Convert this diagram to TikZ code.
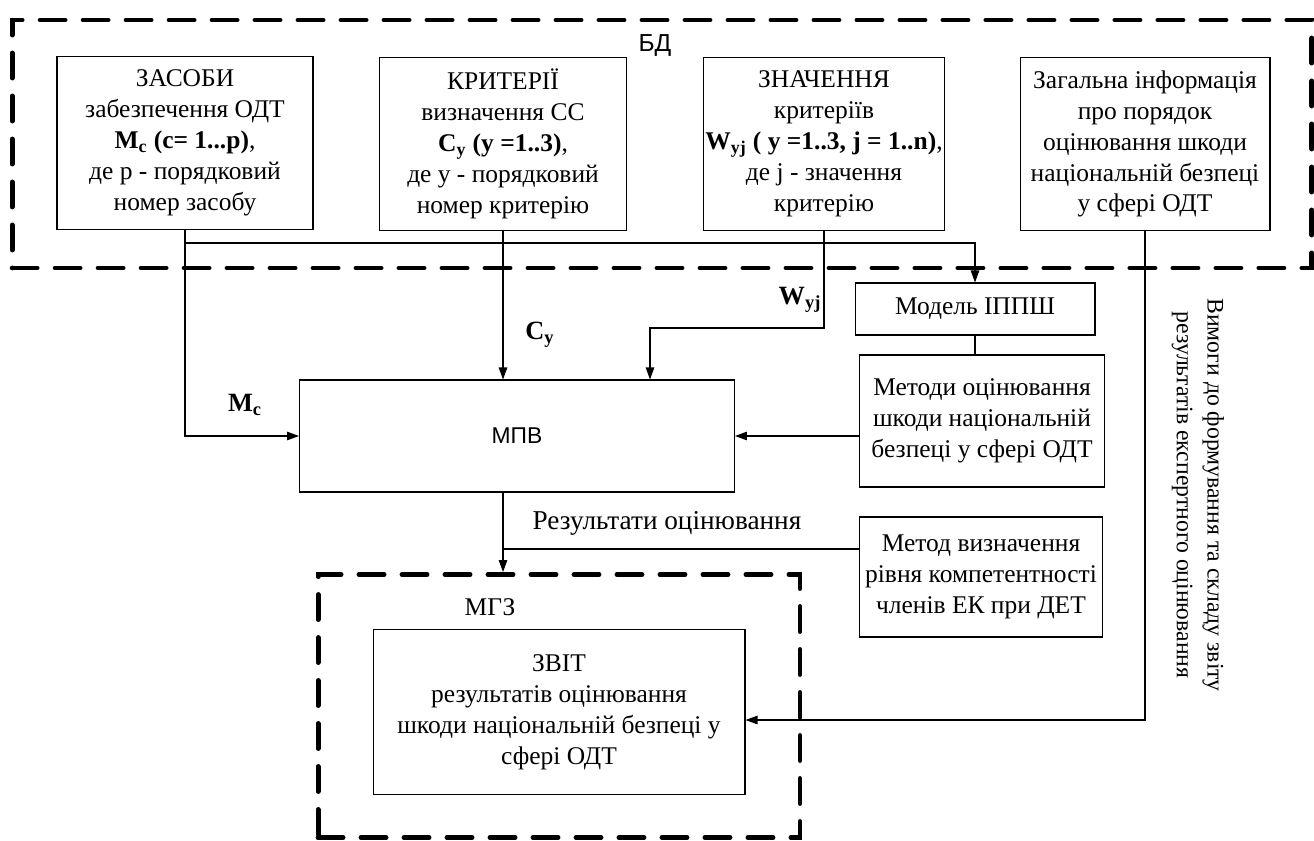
\documentclass[tikz,border=0pt]{standalone}
\usepackage{fontspec}
\setmainfont{Liberation Serif}
\newfontfamily\sansf{Liberation Sans}
\usetikzlibrary{arrows.meta}

\begin{document}
\begin{tikzpicture}[x=0.02cm,y=-0.02cm,
    box/.style={draw,line width=0.6pt,align=center,inner sep=1pt,font=\fontsize{14.5}{17.6}\selectfont},
    zone/.style={draw,line width=2.8pt,dash pattern=on 0.5cm off 0.36cm,line cap=round},
    link/.style={line width=0.6pt},
    arr/.style={link,-{Triangle[length=0.24cm,width=0.17cm]}},
    lbl/.style={font=\fontsize{15}{17}\selectfont\bfseries}]
    \useasboundingbox (0,0) rectangle (1314,841);
    \node[zone,minimum width=26cm,minimum height=4.96cm] (bd) at (662,144) {};
    \node[font=\sansf\fontsize{14}{16}\selectfont] (bdlbl) at (655,45) {БД};
    \node[box,minimum width=5.12cm,minimum height=3.46cm] (tools) at (185,143) {ЗАСОБИ\\забезпечення ОДТ\\\textbf{M\textsubscript{c} (c= 1...p)},\\де р - порядковий\\номер засобу};
    \node[box,minimum width=4.94cm,minimum height=3.46cm] (crit) at (503,144) {КРИТЕРІЇ\\визначення СС\\\textbf{C\textsubscript{y} (y =1..3)},\\де у - порядковий\\номер критерію};
    \node[box,minimum width=4.56cm,minimum height=3.46cm] (vals) at (824,144) {ЗНАЧЕННЯ\\критеріїв\\\textbf{W\textsubscript{yj} ( y =1..3, j = 1..n)},\\де j - значення\\критерію};
    \node[box,minimum width=5cm,minimum height=3.46cm] (info) at (1145,144) {Загальна інформація\\про порядок\\оцінювання шкоди\\національній безпеці\\у сфері ОДТ};
    \node[box,minimum width=4.8cm,minimum height=1.04cm] (model) at (975,309) {Модель ІППШ};
    \node[box,minimum width=4.9cm,minimum height=2.64cm] (methods) at (982,421) {Методи оцінювання\\шкоди національній\\безпеці у сфері ОДТ};
    \node[box,minimum width=4.86cm,minimum height=2.4cm] (method2) at (981,577) {Метод визначення\\рівня компетентності\\членів ЕК при ДЕТ};
    \node[box,font=\sansf\fontsize{13}{15}\selectfont,minimum width=8.7cm,minimum height=2.24cm] (mpv) at (517,436) {МПВ};
    \node[zone,minimum width=9.64cm,minimum height=5.26cm] (mgz) at (559,706) {};
    \node[font=\fontsize{14.5}{17}\selectfont] (mgzlbl) at (490,607) {МГЗ};
    \node[box,minimum width=7.44cm,minimum height=3.3cm] (report) at (559,712) {ЗВІТ\\результатів оцінювання\\шкоди національній безпеці у\\сфері ОДТ};
    \node[rotate=-90,align=center,font=\fontsize{13.5}{17.5}\selectfont] (req) at (1198,495) {Вимоги до формування та складу звіту\\результатів експертного оцінювання};
    \node[lbl] (mclbl) at (245,405) {M\textsubscript{c}};
    \node[lbl] (cylbl) at (540,335) {C\textsubscript{y}};
    \node[lbl] (wlbl) at (800,300) {W\textsubscript{yj}};
    \node[font=\fontsize{15.5}{17}\selectfont] (reslbl) at (667,523) {Результати оцінювання};
    \coordinate (bus) at (0,243);
    \coordinate (wbend) at (650,328);
    \coordinate (res) at (0,549);
    \coordinate (toreport) at (0,720);
    \draw[arr] (tools.south) |- (mpv.west);
    \draw[arr] (tools.south |- bus) -| (model.north);
    \draw[arr] (crit.south) -- (crit.south |- mpv.north);
    \draw[arr] (vals.south) |- (wbend) -- (wbend |- mpv.north);
    \draw[link] (model.south) -- (model.south |- methods.north);
    \draw[arr] (methods.west |- mpv) -- (mpv.east);
    \draw[arr] (crit.south |- mpv.south) -- (crit.south |- mgz.north);
    \draw[link] (method2.west |- res) -- (crit.south |- res);
    \draw[arr] (info.south) |- (report.east |- toreport);
\end{tikzpicture}
\end{document}
